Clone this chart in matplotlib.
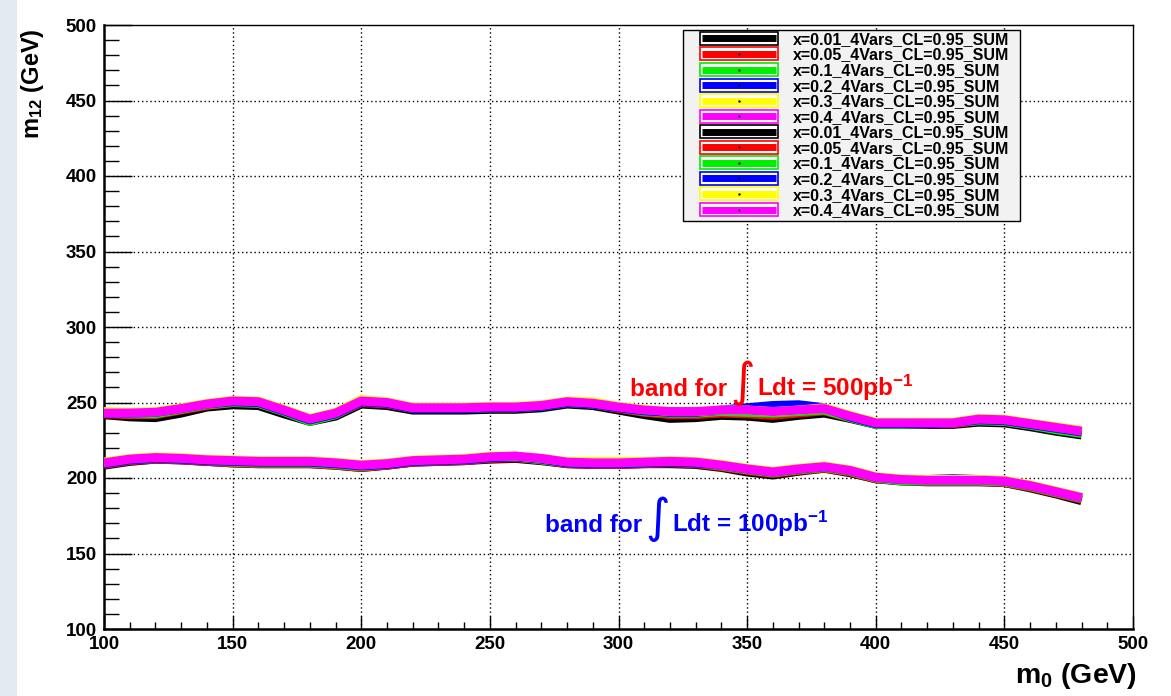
import matplotlib
matplotlib.use("Agg")
import matplotlib.pyplot as plt
from matplotlib.patches import Rectangle
from matplotlib.lines import Line2D
from matplotlib.legend_handler import HandlerBase
from matplotlib.offsetbox import TextArea, HPacker, AnnotationBbox
from matplotlib.ticker import MultipleLocator

plt.rcParams['font.family'] = ['Liberation Sans', 'DejaVu Sans']
plt.rcParams['font.weight'] = 'bold'
plt.rcParams['mathtext.fontset'] = 'custom'
plt.rcParams['mathtext.rm'] = 'Liberation Sans:bold'
plt.rcParams['mathtext.bf'] = 'Liberation Sans:bold'
plt.rcParams['mathtext.it'] = 'Liberation Sans:bold:italic'

# ---------------- data ----------------
m0 = [100, 110, 120, 130, 140, 150, 160, 170, 180, 190, 200, 210, 220, 230, 240,
      250, 260, 270, 280, 290, 300, 310, 320, 330, 340, 350, 360, 370, 380, 390,
      400, 410, 420, 430, 440, 450, 460, 470, 480]

x_values = ["0.01", "0.05", "0.1", "0.2", "0.3", "0.4"]
series_colors = ["black", "red", "#00ee00", "blue", "yellow", "magenta"]

# band for 500 pb^-1
up_black = [242, 240.5, 240, 243, 247, 248.5, 248, 242.5, 237.5, 241, 249, 248, 245, 245, 245,
            245.5, 245.5, 246.5, 249, 248, 245, 242, 239.5, 240, 241.5, 241, 239.5, 241.5, 243, 239.5,
            235.5, 235.5, 235.5, 235.5, 237, 236.5, 234, 231, 228.5]
up_red = [242.5, 242, 242, 245, 248, 250, 249.5, 244, 238, 242, 250, 249, 246, 246, 246,
          246.5, 246.5, 247.5, 250, 249, 246, 243.5, 242, 242, 243, 242.5, 241.5, 243, 244.5, 240,
          236, 236, 236, 236, 238, 237.5, 235, 232.5, 230]
up_green = [243, 242.5, 242.5, 245.5, 248.5, 250, 249.5, 244, 237.5, 242, 250.5, 249.5, 246, 246, 246,
            246.5, 246.5, 247.5, 250, 249, 246.5, 244, 243, 243, 244, 243.5, 243, 244, 245, 240,
            235.5, 235.5, 236, 236.5, 238, 237.5, 235, 232, 229.5]
up_blue = [243, 243, 243.5, 246, 249, 250.5, 250, 244.5, 238.5, 242.5, 250.5, 249.5, 246, 246, 246,
           246.5, 246.5, 247.5, 250, 249, 246.5, 244.5, 243.5, 243.5, 245, 246.5, 248, 248.5, 246.5, 240.5,
           236, 236, 236, 236.5, 238.5, 238, 235.5, 233, 230.5]
up_yellow = [244, 243.5, 244, 246.5, 249.5, 251.5, 251, 245.5, 239.5, 243.5, 252, 250.5, 247, 247, 247,
             247.5, 247.5, 248.5, 251, 250.5, 247.5, 245.5, 244, 244, 245, 245, 244, 245, 246.5, 241.5,
             237, 237, 237, 237, 239.5, 239, 236.5, 234, 231.5]
up_magenta = [243, 243, 243.5, 246, 249, 251, 250.5, 245, 239, 243, 251, 250, 246.5, 246.5, 246.5,
              247, 247, 248, 250.5, 249.5, 247, 245, 244, 244, 245, 245, 244, 245, 246, 241,
              236.5, 236.5, 236.5, 236.5, 239, 238.5, 236, 233.5, 231]

# band for 100 pb^-1
lo_black = [208.5, 211, 212.5, 212, 211, 210, 209.5, 209.5, 209.5, 208.5, 207, 208.5, 210.5, 211, 211.5,
            212.5, 213, 211.5, 209.5, 209, 209, 209.5, 209.5, 209, 207, 204, 202, 204.5, 206.5, 203.5,
            199.5, 198, 197.5, 197.5, 197.5, 197, 193.5, 189.5, 185]
lo_red = [209, 211.5, 212.5, 212, 211, 210, 209.5, 209.5, 209.5, 208.5, 207, 208.5, 210.5, 211, 211.5,
          213, 213.5, 212, 209.5, 209, 209, 209.5, 210, 209.5, 207.5, 205, 203, 205, 206.5, 204,
          199.5, 198.5, 198, 198, 198, 197, 194, 190, 186]
lo_green = [209.5, 212, 213, 212.5, 211.5, 210.5, 210, 210, 210, 209, 207.5, 209, 211, 211.5, 212,
            213.5, 214, 212, 210, 209.5, 209.5, 210, 210.5, 210, 208, 205.5, 203.5, 205.5, 207, 204.5,
            200, 198, 198, 198, 198, 197.5, 194.5, 190.5, 186.5]
lo_blue = [209.5, 212, 213, 212.5, 211.5, 211, 210.5, 210.5, 210.5, 209.5, 208, 209, 211, 211.5, 212,
           213.5, 214, 212.5, 210, 209.5, 209.5, 210, 210.5, 210, 208.5, 206, 204, 206, 207.5, 205,
           200.5, 199, 199, 199.5, 199, 198, 195, 191, 187]
lo_yellow = [210.5, 213, 214, 213.5, 212.5, 212, 211.5, 211.5, 211.5, 210.5, 209, 210, 212, 212.5, 213,
             214.5, 214.5, 213, 211, 211, 211, 211, 211.5, 211, 209, 206.5, 204.5, 206.5, 208, 205.5,
             201, 199.5, 199, 199, 199, 198.5, 195.5, 191.5, 187.5]
lo_magenta = [210, 212.5, 213.5, 213, 212, 211.5, 211, 211, 211, 210, 208.5, 209.5, 211.5, 212, 212.5,
              214, 214.5, 213, 210.5, 210, 210, 210.5, 211, 210.5, 208.5, 206, 204, 206, 207.5, 205,
              200.5, 199, 198.5, 198.5, 198.5, 198, 195, 191, 187]

upper_band = [up_black, up_red, up_green, up_blue, up_yellow, up_magenta]
lower_band = [lo_black, lo_red, lo_green, lo_blue, lo_yellow, lo_magenta]

x_ticks = [100, 150, 200, 250, 300, 350, 400, 450, 500]
y_ticks = [100, 150, 200, 250, 300, 350, 400, 450, 500]

# ---------------- figure ----------------
W, H = 1171, 696
fig = plt.figure(figsize=(W / 100, H / 100), dpi=100)
fig.patches.append(Rectangle((0, 0), 17 / W, 1, transform=fig.transFigure,
                             facecolor='#e3ebf0', edgecolor='none', zorder=-10))

ax = fig.add_axes([104 / W, 1 - 629 / H, (1133 - 104) / W, (629 - 25) / H])
ax.set_xlim(100, 500)
ax.set_ylim(100, 500)

handles = []
labels = []
for band in (upper_band, lower_band):
    for xv, col, vals in zip(x_values, series_colors, band):
        ln, = ax.plot(m0, vals, color=col, lw=6.5, solid_capstyle='butt',
                      solid_joinstyle='round', zorder=3)
        handles.append(ln)
        labels.append(f"x={xv}_4Vars_CL=0.95_SUM")

# grid
for xv in x_ticks[1:-1]:
    ax.axvline(xv, color='black', lw=1.0, ls=(0, (1, 2)), zorder=1)
for yv in y_ticks[1:-1]:
    ax.axhline(yv, color='black', lw=1.0, ls=(0, (1, 2)), zorder=1)

ax.set_xticks(x_ticks)
ax.set_yticks(y_ticks)
ax.xaxis.set_minor_locator(MultipleLocator(10))
ax.yaxis.set_minor_locator(MultipleLocator(10))
ax.tick_params(axis='x', which='major', direction='in', length=9.5, width=1.0,
               labelsize=13.5, pad=5)
ax.tick_params(axis='x', which='minor', direction='in', length=4.8, width=1.0)
ax.tick_params(axis='y', which='major', direction='in', length=20, width=1.0,
               labelsize=13.5, pad=5)
ax.tick_params(axis='y', which='minor', direction='in', length=10.5, width=1.0)
for lab in ax.get_xticklabels() + ax.get_yticklabels():
    lab.set_fontweight('bold')
for s in ax.spines.values():
    s.set_linewidth(1.0)
ax.spines['left'].set_linewidth(1.8)
ax.spines['bottom'].set_linewidth(1.8)


class BoxLineHandler(HandlerBase):
    def create_artists(self, legend, orig_handle, xdescent, ydescent, width, height,
                       fontsize, trans):
        col = orig_handle.get_color()
        h = 13.0 * 72 / 100  # points
        yc = -ydescent + height / 2
        r = Rectangle((-xdescent, yc - h / 2), width, h, facecolor='white', edgecolor=col,
                      lw=1.2, transform=trans)
        l = Line2D([-xdescent + 1.5, -xdescent + width - 1.5], [yc, yc], color=col, lw=5.0,
                   solid_capstyle='butt', transform=trans)
        d = Line2D([-xdescent + width / 2], [yc], marker='.', ms=1.5, color='black',
                   ls='none', transform=trans)
        return [r, l, d]


# legend box (frame drawn explicitly, below the legend entries)
legend_box = Rectangle((683 / W, 1 - 221 / H), (1020 - 683) / W, (221 - 30) / H,
                       transform=fig.transFigure, facecolor='#f2f2f2',
                       edgecolor='black', lw=1.0, zorder=4, clip_on=False)
ax.add_patch(legend_box)
leg_fs = 11.5
leg = ax.legend(handles, labels, loc='upper left', bbox_to_anchor=(700 / W, 1 - 32 / H),
                bbox_transform=fig.transFigure, handler_map={Line2D: BoxLineHandler()},
                prop={'weight': 'bold', 'size': leg_fs}, frameon=False,
                handlelength=78 * 0.72 / leg_fs, handleheight=0.7,
                handletextpad=15 * 0.72 / leg_fs,
                labelspacing=0.035, borderpad=0, borderaxespad=0)
leg.set_zorder(5)


def band_label(number, color, x, y):
    props = dict(color=color, fontsize=17.5, fontweight='bold')
    parts = [TextArea("band for", textprops=props),
             TextArea("\u222b", textprops=dict(color=color, fontsize=34, fontweight='normal',
                                               family=['DejaVu Sans'])),
             TextArea(f"Ldt = {number}pb$^{{-1}}$", textprops=props)]
    box = HPacker(children=parts, align='baseline', pad=0, sep=2)
    ab = AnnotationBbox(box, (x, y), xycoords='data', box_alignment=(0, 0.5),
                        frameon=False, zorder=6)
    ax.add_artist(ab)


band_label("500", "red", 304.5, 263)
band_label("100", "blue", 271.4, 172.5)

fig.text(33 / W, 1 - 28 / H, "m$_{12}$ (GeV)", rotation=90, ha='center', va='top',
         fontsize=17, fontweight='bold')
fig.text(1137 / W, 1 - 676 / H, "m$_0$ (GeV)", ha='right', va='center',
         fontsize=20.5, fontweight='bold')

fig.savefig("out.png", dpi=100)
